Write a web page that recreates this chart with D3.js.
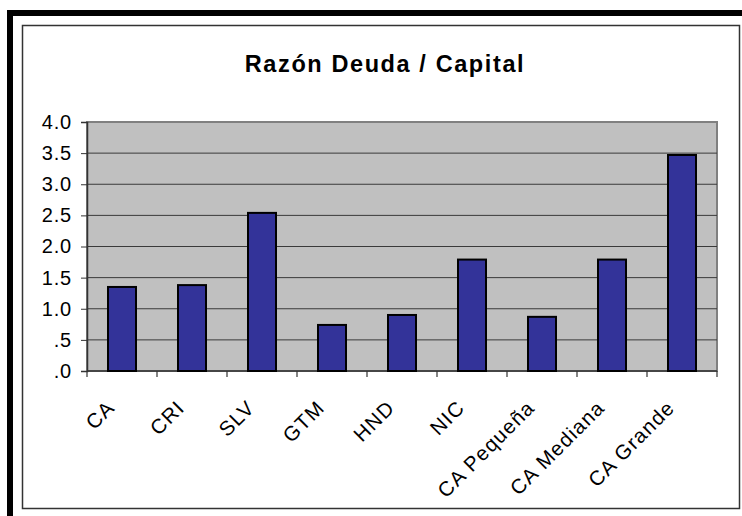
<!DOCTYPE html>
<html>
<head>
<meta charset="utf-8">
<script src="https://cdn.jsdelivr.net/npm/d3@7"></script>
<style>
  body { margin: 0; background: #fff; }
  text { font-family: "Liberation Sans", Arial, sans-serif; fill: #000; }
</style>
</head>
<body>
<svg id="chart"></svg>
<script>
// Data
const categories = ['CA', 'CRI', 'SLV', 'GTM', 'HND', 'NIC', 'CA Pequeña', 'CA Mediana', 'CA Grande'];
const values = [1.35, 1.38, 2.54, 0.74, 0.90, 1.79, 0.87, 1.79, 3.47];
const yTicks = [0, 0.5, 1, 1.5, 2, 2.5, 3, 3.5, 4];
const yTickLabels = ['.0', '.5', '1.0', '1.5', '2.0', '2.5', '3.0', '3.5', '4.0'];
const title = 'Razón Deuda / Capital';

const width = 742;
const height = 516;

const svg = d3.select('#chart').attr('width', width).attr('height', height);

// Frames: thick black outer frame (left + top) and thin chart-area border
svg.append('rect')
  .attr('x', 10).attr('y', 13)
  .attr('width', width).attr('height', height)
  .attr('fill', 'none').attr('stroke', '#000').attr('stroke-width', 6);

svg.append('rect')
  .attr('x', 22.5).attr('y', 25.5)
  .attr('width', 717).attr('height', 483)
  .attr('fill', '#fff').attr('stroke', '#333').attr('stroke-width', 1.5);

// Plot area
const plot = { left: 87, right: 717, top: 122, bottom: 371 };

const x = d3.scaleBand()
  .domain(categories)
  .range([plot.left, plot.right])
  .paddingInner(0.6)
  .paddingOuter(0.3);

const y = d3.scaleLinear()
  .domain([0, 4])
  .range([plot.bottom, plot.top]);

svg.append('rect')
  .attr('x', plot.left).attr('y', plot.top)
  .attr('width', plot.right - plot.left).attr('height', plot.bottom - plot.top)
  .attr('fill', '#c0c0c0').attr('stroke', '#808080').attr('stroke-width', 2);

// Gridlines
svg.append('g')
  .selectAll('line')
  .data(yTicks.filter(d => d > 0 && d < 4))
  .enter()
  .append('line')
  .attr('x1', plot.left).attr('x2', plot.right)
  .attr('y1', d => y(d)).attr('y2', d => y(d))
  .attr('stroke', '#3a3a3a').attr('stroke-width', 1);

// Y axis
const yAxis = svg.append('g')
  .attr('transform', 'translate(' + plot.left + ',0)')
  .call(d3.axisLeft(y)
    .tickValues(yTicks)
    .tickFormat((d, i) => yTickLabels[i])
    .tickSize(6)
    .tickPadding(9));
yAxis.select('.domain').attr('stroke', '#333').attr('stroke-width', 1.5);
yAxis.selectAll('.tick line').attr('stroke', '#333');
yAxis.selectAll('.tick text').attr('font-size', 20).attr('fill', '#000')
  .attr('letter-spacing', 0.8)
  .style('font-family', '"Liberation Sans", Arial, sans-serif');

// X axis line and tick marks between categories
const step = x.step();
const boundaries = d3.range(categories.length + 1).map(i => plot.left + i * step);

svg.append('line')
  .attr('x1', plot.left).attr('x2', plot.right)
  .attr('y1', plot.bottom).attr('y2', plot.bottom)
  .attr('stroke', '#333').attr('stroke-width', 1.5);

svg.append('g')
  .selectAll('line')
  .data(boundaries)
  .enter()
  .append('line')
  .attr('x1', d => d).attr('x2', d => d)
  .attr('y1', plot.bottom).attr('y2', plot.bottom + 6)
  .attr('stroke', '#333').attr('stroke-width', 1.2);

// Bars
svg.append('g')
  .selectAll('rect')
  .data(values)
  .enter()
  .append('rect')
  .attr('x', (d, i) => x(categories[i]))
  .attr('y', d => y(d))
  .attr('width', x.bandwidth())
  .attr('height', d => plot.bottom - y(d))
  .attr('fill', '#333399')
  .attr('stroke', '#000')
  .attr('stroke-width', 2);

// Category labels, rotated
svg.append('g')
  .selectAll('text')
  .data(categories)
  .enter()
  .append('text')
  .attr('text-anchor', 'end')
  .attr('font-size', 20.5)
  .attr('letter-spacing', 1.2)
  .attr('transform', d => 'translate(' + (x(d) + x.bandwidth() / 2 - 6) + ',409) rotate(-45)')
  .text(d => d);

// Title
svg.append('text')
  .attr('x', 385)
  .attr('y', 72)
  .attr('text-anchor', 'middle')
  .attr('font-size', 23.5)
  .attr('font-weight', 'bold')
  .attr('letter-spacing', 1.6)
  .text(title);
</script>
</body>
</html>
